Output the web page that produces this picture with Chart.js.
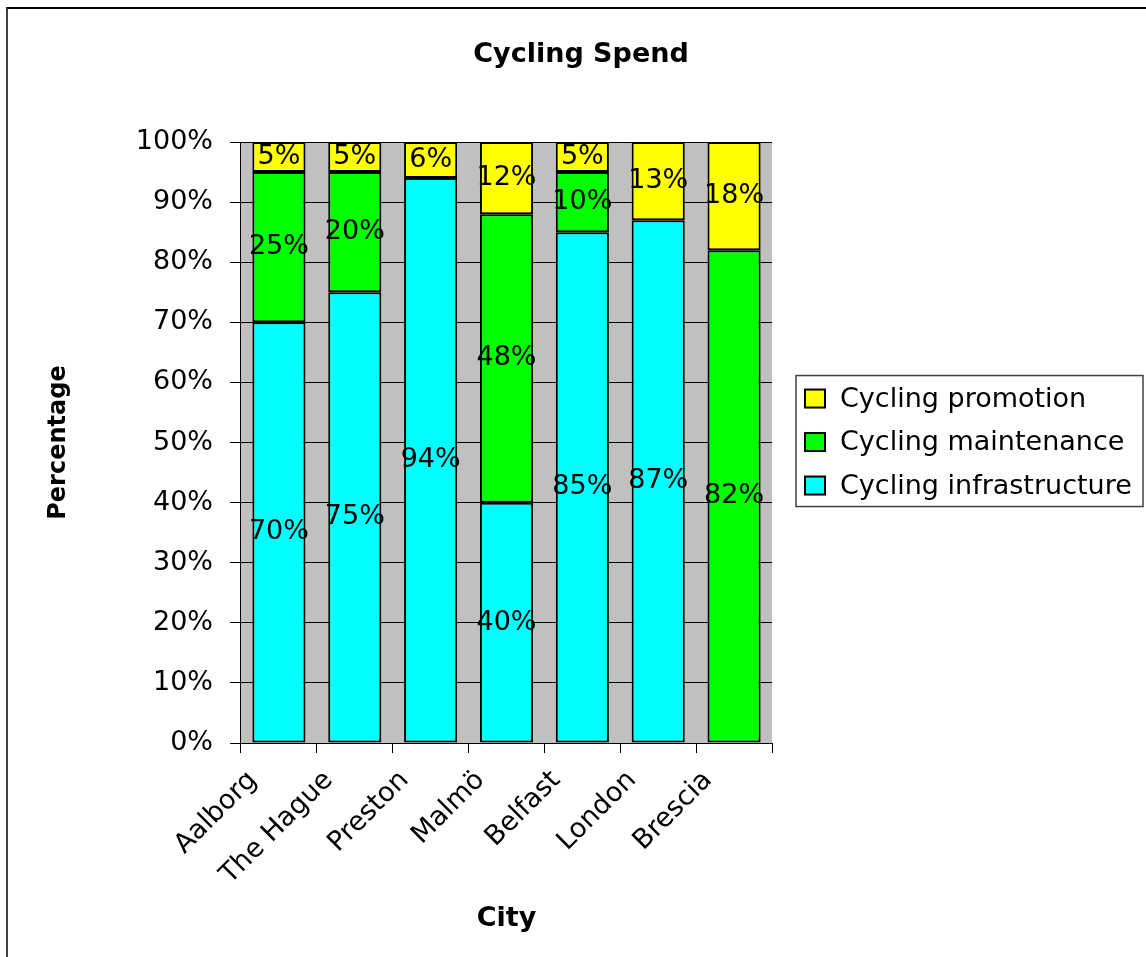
<!DOCTYPE html>
<html>
<head>
<meta charset="utf-8">
<script src="https://cdn.jsdelivr.net/npm/chart.js@4.4.0/dist/chart.umd.min.js"></script>
<style>
  body { margin: 0; background: #fff; }
  #wrap { position: relative; width: 1146px; height: 957px; overflow: hidden; }
  #frame { position: absolute; left: 6px; top: 7px; width: 1200px; height: 1000px;
           border-left: 2px solid #404040; border-top: 2px solid #000; }
  canvas { position: absolute; left: 0; top: 0; }
</style>
</head>
<body>
<div id="wrap">
  <div id="frame"></div>
  <canvas id="chart-bar" width="1146" height="957"></canvas>
</div>
<script>
// values (percent of spend per city)
const cities = ["Aalborg", "The Hague", "Preston", "Malmö", "Belfast", "London", "Brescia"];
const infrastructure = [70, 75, 94, 40, 85, 87, 0];
const maintenance = [25, 20, 0, 48, 10, 0, 82];
const promotion = [5, 5, 6, 12, 5, 13, 18];
const y_ticks = [0, 10, 20, 30, 40, 50, 60, 70, 80, 90, 100];
const chart_title = "Cycling Spend";

const font_family = "DejaVu Sans";

// gray plot area like the old Excel charts
const plotBackground = {
  id: 'plotBackground',
  beforeDraw(chart) {
    const {ctx, chartArea} = chart;
    ctx.save();
    ctx.fillStyle = '#c0c0c0';
    ctx.fillRect(chartArea.left, chartArea.top, chartArea.width, chartArea.height);
    ctx.restore();
  }
};

// title centred on the whole frame, not just on the plot
const frameTitle = {
  id: 'frameTitle',
  afterDraw(chart) {
    const ctx = chart.ctx;
    ctx.save();
    ctx.font = 'bold 27px "' + font_family + '"';
    ctx.fillStyle = '#000';
    ctx.textAlign = 'center';
    ctx.textBaseline = 'middle';
    ctx.fillText(chart_title, chart.width / 2 + 8, 55);
    ctx.restore();
  }
};

// value labels in the middle of each segment
const barLabels = {
  id: 'barLabels',
  afterDatasetsDraw(chart) {
    const ctx = chart.ctx;
    ctx.save();
    ctx.font = '27px "' + font_family + '"';
    ctx.fillStyle = '#000';
    ctx.textAlign = 'center';
    ctx.textBaseline = 'middle';
    chart.data.datasets.forEach(function(ds, di){
      const meta = chart.getDatasetMeta(di);
      meta.data.forEach(function(bar, i){
        const v = ds.data[i];
        if (!v) return;
        ctx.fillText(v + '%', bar.x, (bar.y + bar.base) / 2);
      });
    });
    ctx.restore();
  }
};

// boxed legend on the right, top item = top of the stack
const boxLegend = {
  id: 'boxLegend',
  afterDraw(chart) {
    const {ctx, chartArea} = chart;
    const cy = (chartArea.top + chartArea.bottom) / 2;
    const x0 = chartArea.right + 24;
    const y0 = cy - 67;
    ctx.save();
    ctx.strokeStyle = '#404040';
    ctx.lineWidth = 1.5;
    ctx.strokeRect(x0, y0, 347, 131);
    ctx.font = '27px "' + font_family + '"';
    ctx.textBaseline = 'middle';
    ctx.textAlign = 'left';
    const items = chart.data.datasets.slice().reverse();
    items.forEach(function(ds, i){
      const yc = cy - 44 + i * 43.5;
      ctx.fillStyle = ds.backgroundColor;
      ctx.fillRect(x0 + 9, yc - 9, 20, 18);
      ctx.strokeStyle = '#000';
      ctx.lineWidth = 2;
      ctx.strokeRect(x0 + 9, yc - 9, 20, 18);
      ctx.fillStyle = '#000';
      ctx.fillText(ds.label, x0 + 44, yc + 1);
    });
    ctx.restore();
  }
};

// a 0% segment is simply not drawn
function no_zero(values){
  return values.map(v => v === 0 ? null : v);
}

const ctx = document.getElementById("chart-bar").getContext("2d");

new Chart(ctx, {
  type: "bar",
  data: {
    labels: cities,
    datasets: [{
        label: "Cycling infrastructure",
        data: no_zero(infrastructure),
        backgroundColor: "#00ffff",
        borderColor: "#000",
        borderWidth: 2,
        borderSkipped: false,
        barPercentage: 0.7,
        categoryPercentage: 1.0
      },
      {
        label: "Cycling maintenance",
        data: no_zero(maintenance),
        backgroundColor: "#00ff00",
        borderColor: "#000",
        borderWidth: 2,
        borderSkipped: false,
        barPercentage: 0.7,
        categoryPercentage: 1.0
      },
      {
        label: "Cycling promotion",
        data: no_zero(promotion),
        backgroundColor: "#ffff00",
        borderColor: "#000",
        borderWidth: 2,
        borderSkipped: false,
        barPercentage: 0.7,
        categoryPercentage: 1.0
      },
    ],
  },
  options: {
    responsive: false,
    animation: false,
    layout: {
      padding: {left: 20, right: 374, top: 142, bottom: 0}
    },
    plugins: {
      legend: { display: false },
      tooltip: { enabled: false },
      title: { display: false }
    },
    scales: {
      x: {
        stacked: true,
        grid: {
          display: true,
          drawOnChartArea: false,
          drawTicks: true,
          tickLength: 10,
          color: '#000',
          offset: true
        },
        border: { display: true, color: '#000', width: 1 },
        ticks: {
          color: '#000',
          minRotation: 45,
          maxRotation: 45,
          padding: 11.5,
          labelOffset: -26,
          font: { family: font_family, size: 27 }
        },
        title: {
          display: true,
          text: "City",
          color: '#000',
          font: { family: font_family, size: 27, weight: 'bold' },
          padding: { top: 0, bottom: 22 }
        }
      },
      y: {
        stacked: true,
        min: 0,
        max: 100,
        afterBuildTicks: function(axis){
          axis.ticks = y_ticks.map(v => ({value: v}));
        },
        grid: {
          display: true,
          drawOnChartArea: true,
          drawTicks: true,
          tickLength: 11,
          color: '#000',
          lineWidth: 1
        },
        border: { display: true, color: '#000', width: 1 },
        ticks: {
          color: '#000',
          padding: 17,
          font: { family: font_family, size: 27 },
          callback: function(value){ return value + '%'; }
        },
        title: {
          display: true,
          text: "Percentage",
          color: '#000',
          font: { family: font_family, size: 24, weight: 'bold' },
          padding: { top: 24, bottom: 46 }
        }
      },
    },
  },
  plugins: [plotBackground, frameTitle, barLabels, boxLegend]
});
</script>
</body>
</html>
